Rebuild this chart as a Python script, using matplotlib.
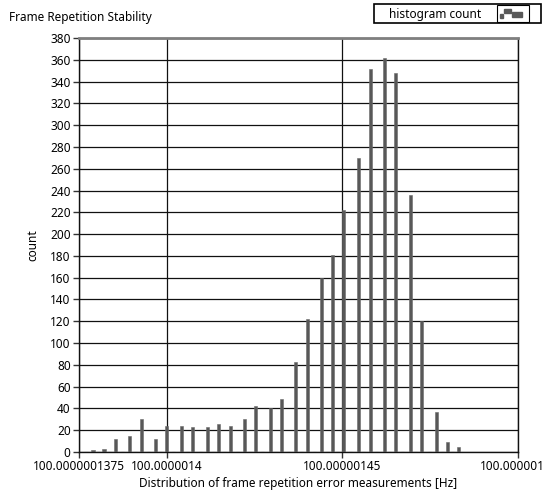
import matplotlib.pyplot as plt
import matplotlib.transforms as mtransforms
from matplotlib.patches import Rectangle

plt.rcParams['font.family'] = ['Noto Sans', 'DejaVu Sans']

# bin centres, in nHz above 100 Hz, and counts
bin_x = [1379.0, 1382.1, 1385.4, 1389.4, 1392.9, 1396.8, 1399.8, 1404.3,
         1407.4, 1411.6, 1414.8, 1418.1, 1422.2, 1425.2, 1429.5, 1432.6,
         1436.6, 1440.0, 1444.1, 1447.2, 1450.2, 1454.5, 1457.9, 1461.9,
         1465.1, 1469.3, 1472.5, 1476.8, 1479.9, 1483.0]
counts = [2, 3, 12, 15, 30, 12, 24, 24,
          23, 23, 26, 24, 30, 42, 40, 49,
          83, 122, 160, 181, 222, 270, 352, 362,
          348, 236, 120, 37, 9, 5]

# empty bins in between
empty_x = [1377.0, 1380.5, 1383.8, 1387.4, 1391.2, 1394.9, 1398.3, 1402.0,
           1405.8, 1409.5, 1413.2, 1416.5, 1420.2, 1423.7, 1427.3, 1431.1,
           1434.7, 1438.4, 1442.0, 1445.7, 1448.7, 1452.3, 1456.1, 1459.8,
           1463.4, 1467.2, 1470.9, 1474.7, 1478.4, 1481.4]
empty_counts = [0] * len(empty_x)

x_ticks = [1375, 1400, 1450, 1500]
x_ticklabels = ["100.0000001375", "100.0000014", "100.00000145", "100.000001"]
y_ticks = list(range(0, 381, 20))

fig = plt.figure(figsize=(5.44, 4.99), dpi=100)
ax = fig.add_axes([0.1452, 0.0942, 0.807, 0.8296])

ax.bar(empty_x, empty_counts, width=0.9, color='#9a9a9a',
       edgecolor='#a0a0a0', linewidth=1.0, zorder=3)
ax.bar(bin_x, counts, width=0.9, color='#585858',
       edgecolor='#6a6a6a', linewidth=0.4, zorder=3)

ax.set_xlim(1375, 1500)
ax.set_ylim(0, 380)
ax.set_xticks(x_ticks)
ax.set_xticklabels(x_ticklabels, fontsize=8.5)
ax.set_yticks(y_ticks)
ax.set_yticklabels([str(v) for v in y_ticks], fontsize=8.5)
ax.tick_params(axis='both', length=4, width=1, color='#333333', pad=2)

# last x label sits a little left so it stays inside the figure
last = ax.get_xticklabels()[-1]
last.set_transform(last.get_transform() +
                   mtransforms.ScaledTranslation(-6 / 100, 0, fig.dpi_scale_trans))

ax.grid(True, color='#111111', linewidth=0.9, zorder=0)
ax.set_axisbelow(True)

for side in ['left', 'right', 'bottom']:
    ax.spines[side].set_color('#111111')
    ax.spines[side].set_linewidth(1.0)
ax.spines['top'].set_color('#7f7f7f')
ax.spines['top'].set_linewidth(2.0)

ax.set_xlabel('Distribution of frame repetition error measurements [Hz]',
              fontsize=8.5, labelpad=3)
ax.set_ylabel('count', fontsize=8.5, labelpad=8)

fig.text(9 / 544, 1 - 17 / 499, 'Frame Repetition Stability',
         fontsize=8.5, va='center', ha='left')

# legend box top right
fig.patches.append(Rectangle((374 / 544, 1 - 23 / 499), 167 / 544, 19 / 499,
                             transform=fig.transFigure, fill=False,
                             edgecolor='black', linewidth=1.2))
fig.patches.append(Rectangle((497 / 544, 1 - 22 / 499), 32 / 544, 17 / 499,
                             transform=fig.transFigure, fill=False,
                             edgecolor='black', linewidth=0.8))
fig.text(435 / 544, 1 - 14.5 / 499, 'histogram count', fontsize=8.5,
         ha='center', va='center')
for gx, gy, gw, gh in [(500, 14, 3, 4), (504, 9, 7, 4), (512, 12, 10, 5)]:
    fig.patches.append(Rectangle((gx / 544, 1 - (gy + gh) / 499), gw / 544, gh / 499,
                                 transform=fig.transFigure, color='#585858'))

fig.savefig('out.png', dpi=100)
